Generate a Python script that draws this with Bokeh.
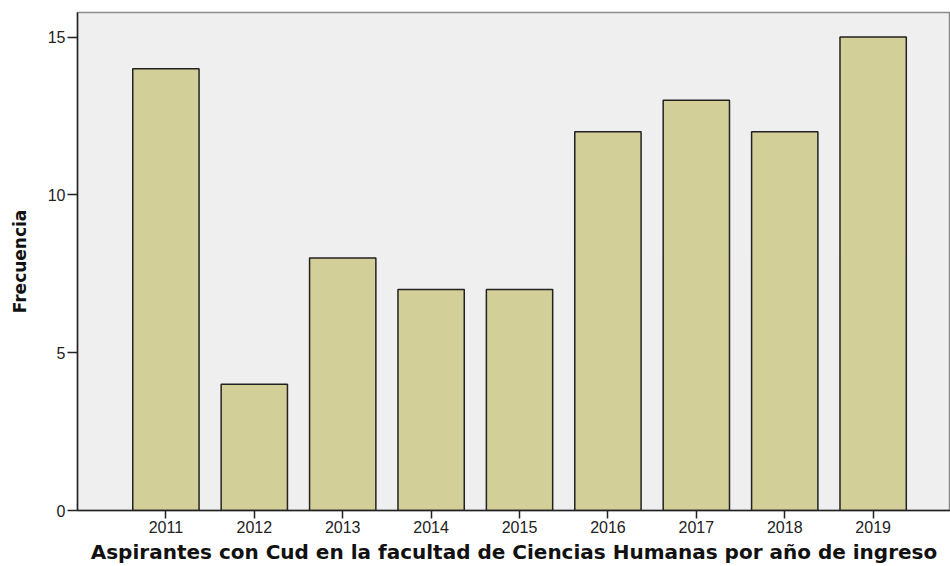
from bokeh.plotting import figure
from bokeh.models import FixedTicker, Range1d
from bokeh.embed import file_html
from bokeh.resources import INLINE

years = [2011, 2012, 2013, 2014, 2015, 2016, 2017, 2018, 2019]
counts = [14, 4, 8, 7, 7, 12, 13, 12, 15]
y_ticks = [0, 5, 10, 15]
x_title = "Aspirantes con Cud en la facultad de Ciencias Humanas por año de ingreso"
y_title = "Frecuencia"

X_START, X_END = 2010, 2019.875
Y_START, Y_END = 0, 15.78

p = figure(width=950, height=566, output_backend="svg", toolbar_location=None,
           x_range=Range1d(X_START, X_END), y_range=Range1d(Y_START, Y_END),
           min_border_left=77, min_border_right=0, min_border_top=12, min_border_bottom=55)

p.background_fill_color = "#efefef"
p.border_fill_color = "white"
p.outline_line_color = "#8c8c8c"
p.outline_line_width = 1.5
p.xgrid.visible = False
p.ygrid.visible = False

p.vbar(x=years, top=counts, width=0.75, fill_color="#d3cf98",
       line_color="#222222", line_width=1.5)

for ax in (p.xaxis[0], p.yaxis[0]):
    ax.axis_line_color = "#222222"
    ax.axis_line_width = 1.5
    ax.major_tick_line_color = "#222222"
    ax.major_tick_line_width = 1.5
    ax.major_tick_in = 0
    ax.minor_tick_line_color = None
    ax.major_label_text_font = "Liberation Sans"
    ax.major_label_text_font_size = "16px"
    ax.major_label_text_color = "#222222"
    ax.axis_label_text_font = "DejaVu Sans"
    ax.axis_label_text_font_style = "bold"
    ax.axis_label_text_color = "#111111"

p.xaxis.ticker = FixedTicker(ticks=years)
p.xaxis.major_tick_out = 8
p.xaxis.major_label_standoff = 2
p.xaxis.axis_label = x_title
p.xaxis.axis_label_text_font_size = "20px"
p.xaxis.axis_label_standoff = 4

p.yaxis.ticker = FixedTicker(ticks=y_ticks)
p.yaxis.major_tick_out = 10
p.yaxis.major_label_standoff = 2
p.yaxis.axis_label = y_title
p.yaxis.axis_label_text_font_size = "17px"
p.yaxis.axis_label_standoff = 15

open("out.html", "w").write(file_html(p, INLINE))
